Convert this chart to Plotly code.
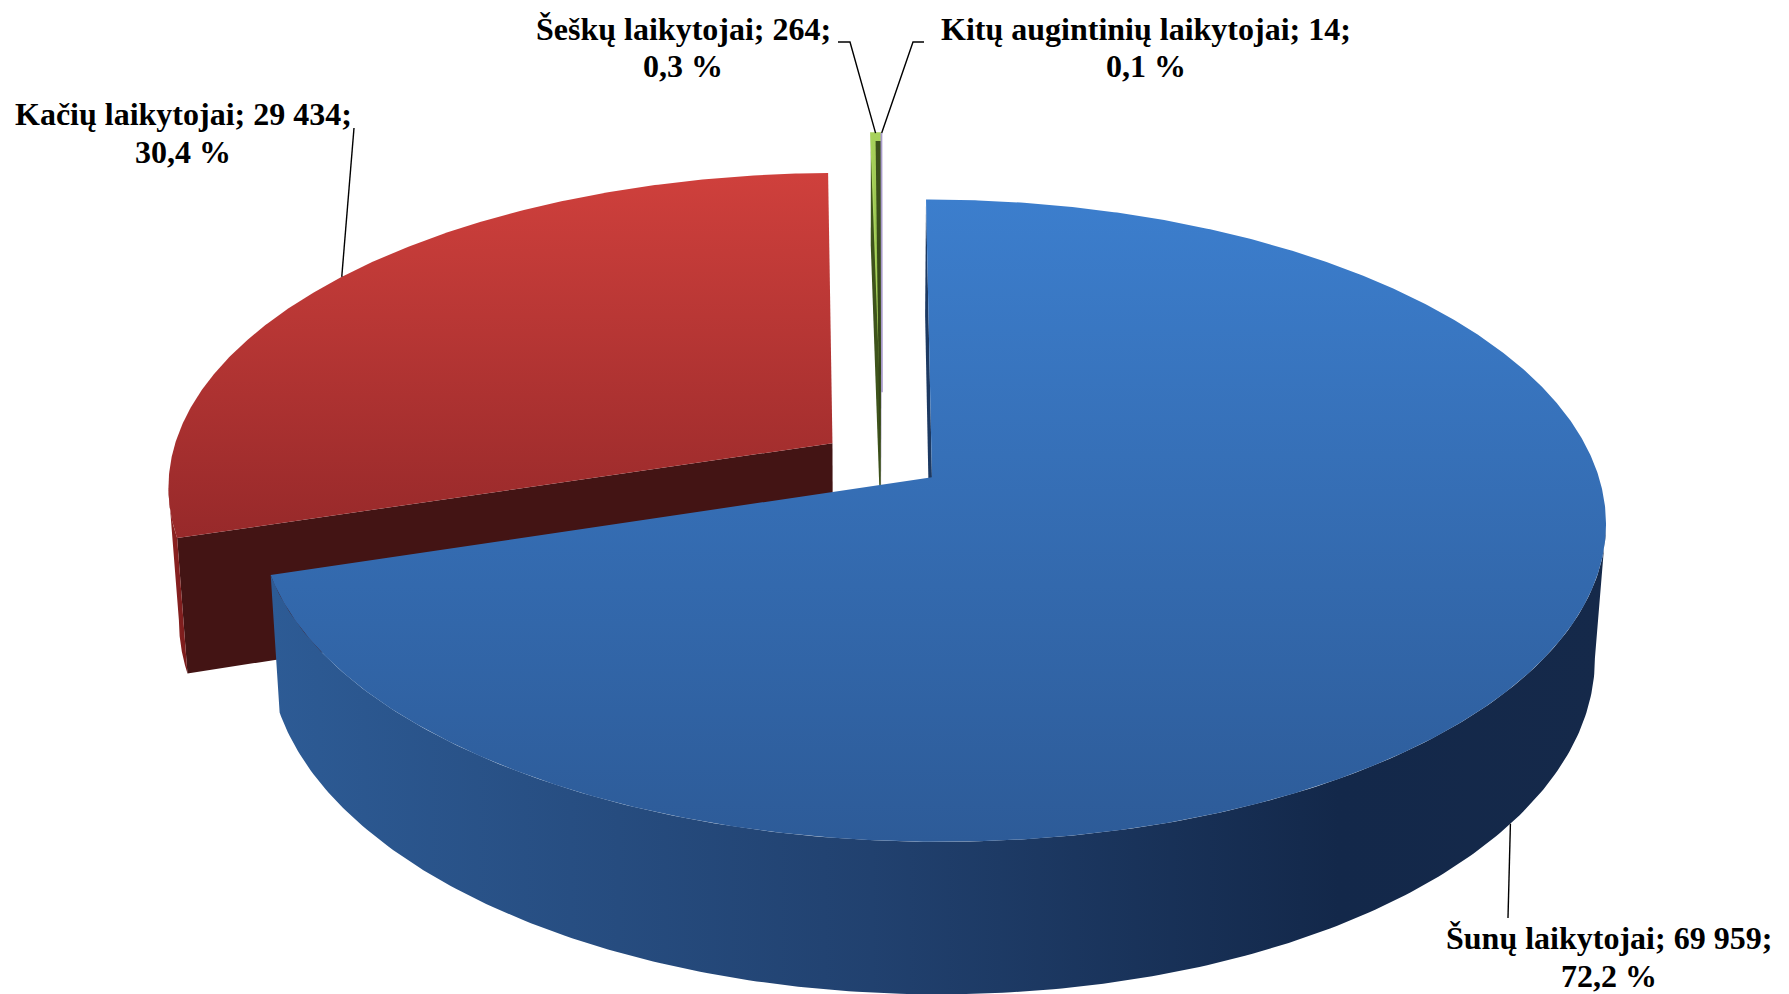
import numpy as np
import plotly.graph_objects as go

# ---------------- data ----------------
categories = ["Šunų laikytojai", "Kačių laikytojai", "Šeškų laikytojai", "Kitų augintinių laikytojai"]
values = [69959, 29434, 264, 14]
value_labels = ["69 959", "29 434", "264", "14"]
percent_labels = ["72,2 %", "30,4 %", "0,3 %", "0,1 %"]

# ---------------- style / geometry ----------------
W, H = 1789, 994
CX, CY = 882.0, 460.0          # pie centre (px)
RX, RY = 662.0, 310.7          # projected radii
PERSP = 0.134                  # perspective strength
DEPTH = 131.0                  # pie thickness
VX, CONV = 866.0, 0.015        # vertical edge convergence
pulls = [0.093, 0.093, 0.225, 0.225]

top_grad = [["#3c7ecd", "#2d5b98"], ["#cf403c", "#97292a"], ["#a8d25c", "#7fab3c"], ["#cfc6e4", "#a99bcb"]]
side_grad = [[[0, "#2d5b95"], [0.45, "#21416f"], [0.8, "#13284a"], [1, "#15294a"]],
             [[0, "#8e2322"], [1, "#7a1c1c"]],
             [[0, "#4a6322"], [1, "#3a4f1a"]],
             [[0, "#8d7ab6"], [1, "#7d6aa6"]]]
cut_colors = ["#1c3962", "#431414", "#3e531b", "#6a5a90"]
body_grad = ["#2f4014", "#3d521b"]
draw_order = [2, 3, 1, 0]

label_lines_y = [(938, 976), (114, 152), (29, 66), (29, 66)]
label_x = [1609, 183, 683, 1146]
leader_ends = [[(1508, 918)], [(354, 128)], [(850, 42), (838, 42)], [(913, 42), (924, 42)]]
FONT = dict(family="Liberation Serif, Times New Roman, serif", size=32, color="black", weight="bold")


def proj(u, v, h=0.0):
    u = np.asarray(u, dtype=float)
    v = np.asarray(v, dtype=float)
    d = 1.0 - PERSP * v
    x0 = CX + RX * u / d
    y = CY + RY * v / d + DEPTH * h / d
    x = x0 - (x0 - VX) * CONV * h
    return x, y


total = float(sum(values))
fracs = np.array(values, dtype=float) / total
ends = np.cumsum(fracs) * 360.0
starts = ends - fracs * 360.0


def slice_geom(i):
    s, e = np.radians(starts[i]), np.radians(ends[i])
    m = 0.5 * (s + e)
    u0, v0 = pulls[i] * np.sin(m), -pulls[i] * np.cos(m)

    def arc(th, h=0.0):
        return proj(u0 + np.sin(th), v0 - np.cos(th), h)

    def vert(h=0.0):
        return proj(u0, v0, h)

    return s, e, m, arc, vert


def signed_area(xs, ys):
    xs, ys = np.asarray(xs), np.asarray(ys)
    return np.sum(xs * np.roll(ys, -1) - np.roll(xs, -1) * ys)


fig = go.Figure()


def add_poly(xs, ys, fill=None, grad=None, line=None):
    kw = dict(x=list(xs) + [xs[0]], y=list(ys) + [ys[0]], mode="lines", fill="toself",
              hoverinfo="skip", showlegend=False)
    if line is None:
        kw["line"] = dict(width=0, color="rgba(0,0,0,0)")
    else:
        kw["line"] = line
    if grad is not None:
        kw["fillgradient"] = grad
    else:
        kw["fillcolor"] = fill
    fig.add_trace(go.Scatter(**kw))


for i in draw_order:
    s, e, m, arc, vert = slice_geom(i)
    vx0, vy0 = vert(0.0)
    vx1, vy1 = vert(1.0)

    # cut faces (radial walls)
    for th, is_start in ((s, True), (e, False)):
        ox0, oy0 = arc(th, 0.0)
        ox1, oy1 = arc(th, 1.0)
        qx = [float(vx0), float(ox0), float(ox1), float(vx1)]
        qy = [float(vy0), float(oy0), float(oy1), float(vy1)]
        a = signed_area(qx, qy)
        if (is_start and a < 0) or ((not is_start) and a > 0):
            add_poly(qx, qy, fill=cut_colors[i])

    # outer side wall (front visible part)
    full = np.radians(np.arange(0, 360, 0.1))
    fx, _ = arc(full, 0.0)
    th_r = full[np.argmax(fx)]
    th_l = full[np.argmin(fx)]
    a0, a1 = max(s, th_r), min(e, th_l)
    if a1 > a0:
        th = np.linspace(a0, a1, 240)
        tx, ty = arc(th, 0.0)
        bx, by = arc(th[::-1], 1.0)
        xs = np.concatenate([tx, bx])
        ys = np.concatenate([ty, by])
        add_poly(xs, ys, grad=dict(type="horizontal", colorscale=side_grad[i],
                                   start=float(xs.min()), stop=float(xs.max())))

    # top face
    th = np.linspace(s, e, max(int((e - s) * 180), 3))
    tx, ty = arc(th, 0.0)
    xs = np.concatenate([[vx0], tx])
    ys = np.concatenate([[vy0], ty])
    line = None
    if fracs[i] < 0.001:
        line = dict(width=1.8, color=top_grad[i][1])
    elif fracs[i] < 0.01:
        line = dict(width=1.5, color=top_grad[i][0])
    add_poly(xs, ys, grad=dict(type="vertical", colorscale=[[0, top_grad[i][0]], [1, top_grad[i][1]]],
                               start=float(ys.min()), stop=float(ys.max())), line=line)

    # thin slice: visible inner wall
    if 0.001 <= fracs[i] < 0.01:
        mx, my = arc(m, 0.0)
        ex, ey = arc(e, 0.0)
        xs = [float(mx), float(ex) + 1.5, float(vx1)]
        ys = [float(my) + 8, float(ey) + 8, float(vy1)]
        add_poly(xs, ys, grad=dict(type="vertical", colorscale=[[0, body_grad[1]], [1, body_grad[0]]],
                                   start=min(ys), stop=max(ys)))

# ---------------- leader lines & labels ----------------
for i in range(len(values)):
    s, e, m, arc, vert = slice_geom(i)
    h = 1.0 if i == 0 else 0.0
    sx, sy = arc(m, h)
    pts = [(float(sx), float(sy))] + leader_ends[i]
    fig.add_trace(go.Scatter(x=[p[0] for p in pts], y=[p[1] for p in pts], mode="lines",
                             line=dict(color="black", width=1.4), hoverinfo="skip", showlegend=False))
    y1, y2 = label_lines_y[i]
    fig.add_annotation(x=label_x[i], y=y1, xref="x", yref="y", showarrow=False,
                       text=f"{categories[i]}; {value_labels[i]};",
                       font=FONT, xanchor="center", yanchor="middle")
    fig.add_annotation(x=label_x[i], y=y2, xref="x", yref="y", showarrow=False,
                       text=percent_labels[i],
                       font=FONT, xanchor="center", yanchor="middle")

fig.update_layout(
    width=W, height=H,
    margin=dict(l=0, r=0, t=0, b=0),
    paper_bgcolor="white", plot_bgcolor="white",
    xaxis=dict(range=[0, W], visible=False, fixedrange=True),
    yaxis=dict(range=[H, 0], visible=False, fixedrange=True),
    showlegend=False,
)

fig.write_html("out.html", config={"displayModeBar": False},
               post_script="document.body.style.margin='0';")
